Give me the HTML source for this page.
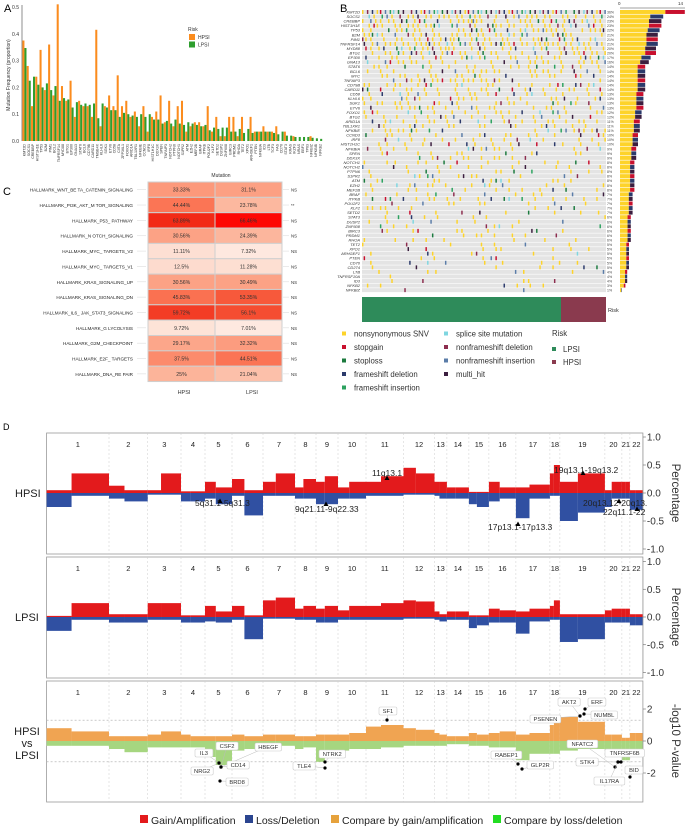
<!DOCTYPE html>
<html><head><meta charset="utf-8"><style>
html,body{margin:0;padding:0;background:#fff;}
svg{display:block;font-family:"Liberation Sans",Arial,sans-serif;}
</style></head><body>
<svg id="fig" width="685" height="830" viewBox="0 0 685 830" xmlns="http://www.w3.org/2000/svg">
<g id="pA"></g>
<g id="pB"></g>
<g id="pC"></g>
<g id="pD"></g>
</svg>
<script>
// ---------- Panel A data ----------
const genesA = ["KMT2D","SOCS1","CREBBP","HIST1H1E","TP53","B2M","PIM1","BCL2","TNFRSF14","MYD88","BTG1","EP300","GNA13","STAT6","BCL6","CD79B","CARD11","TMSB4X","KLHL6","SGK1","ETV6","CD58","CIITA","ZFP36L1","FOXO1","ARID1A","TBL1XR1","NFKBIE","CCND3","IRF8","HIST1H1C","DDX3X","SPEN","TNFAIP3","NOTCH2","PTPN6","NOTCH1","S1PR2","ATM","EZH2","MEF2B","BRAF","ITPKB","POU2F2","KLF2","SETD2","DUSP2","ZNF608","BIRC3","PRDM1","RHOA","TET2","XPO1","ARHGEF1","PTEN","NFKBIA","ID3","LTB","TCF3","FAS","CD70","STAT3","KRAS","IKZF3","NRAS","EBF1","TP63","NFKBIZ","NFKBIB","NFKB2"];
const hpsiFreq = [0.375,0.28,0.13,0.24,0.34,0.19,0.36,0.17,0.51,0.205,0.15,0.225,0.09,0.15,0.13,0.13,0.09,0.415,0.055,0.13,0.17,0.13,0.245,0.13,0.15,0.09,0.11,0.055,0.13,0.035,0.09,0.11,0.17,0.07,0.15,0.055,0.13,0.15,0.035,0.055,0.07,0.07,0.055,0.13,0.035,0.09,0.018,0.018,0.09,0.09,0.018,0.09,0.0,0.09,0.035,0.035,0.055,0.035,0.035,0.055,0.0,0.035,0.0,0.018,0.0,0.0,0.0,0.018,0.0,0.0];
const lpsiFreq = [0.347,0.225,0.24,0.21,0.2,0.215,0.19,0.205,0.15,0.16,0.155,0.125,0.145,0.135,0.14,0.135,0.14,0.085,0.14,0.125,0.115,0.115,0.09,0.105,0.1,0.095,0.09,0.1,0.09,0.1,0.08,0.08,0.065,0.075,0.065,0.08,0.065,0.06,0.07,0.065,0.06,0.055,0.06,0.04,0.05,0.045,0.05,0.05,0.035,0.035,0.045,0.03,0.045,0.03,0.035,0.035,0.035,0.035,0.03,0.025,0.035,0.02,0.02,0.015,0.015,0.015,0.015,0.012,0.01,0.008];
const ticksA = [0,0.1,0.2,0.3,0.4,0.5];

// ---------- Panel B data ----------
const genesB = ["KMT2D","SOCS1","CREBBP","HIST1H1E","TP53","B2M","PIM1","TNFRSF14","MYD88","BTG1","EP300","GNA13","STAT6","BCL6","MYC","TNFAIP3","CD79B","CARD11","CD58","KLHL6","SGK1","ETV6","FOXO1","BTG2","ARID1A","TBL1XR1","NFKBIE","CCND3","IRF8","HIST1H1C","NFKBIA","SPEN","DDX3X","NOTCH1","NOTCH2","PTPN6","S1PR2","ATM","EZH2","MEF2B","BRAF","ITPKB","POU2F2","KLF2","SETD2","STAT3","DUSP2","ZNF608","BIRC3","PRDM1","RHOA","TET2","XPO1","ARHGEF1","PTEN","CD70","CD274","LTB","TNFRSF10A","ID3","NFKB2","NFKBIZ"];
const pctB = [36,24,23,23,22,21,21,21,20,20,17,16,14,14,14,14,14,14,13,13,13,13,12,12,11,11,11,10,10,10,9,9,9,8,8,8,8,8,8,8,7,7,7,7,7,6,6,6,6,6,6,5,5,5,5,5,5,4,4,4,3,1];
const mutTypes = ["nonsynonymous SNV","stopgain","stoploss","frameshift deletion","frameshift insertion","splice site mutation","nonframeshift deletion","nonframeshift insertion","multi_hit"];
const mutColors = ["#fdd32a","#c8102e","#1b7a3e","#2b3a6b","#2ca25f","#7fd6e0","#8c2d4e","#5a7ca8","#3b1e3f"];

// ---------- Panel C data ----------
const pathways = ["HALLMARK_WNT_BE TA_CATENIN_SIGNALING","HALLMARK_PI3K_AKT_M TOR_SIGNALING","HALLMARK_P53_ PATHWAY","HALLMARK_N OTCH_SIGNALING","HALLMARK_MYC_ TARGETS_V2","HALLMARK_MYC_ TARGETS_V1","HALLMARK_KRAS_SIGNALING_UP","HALLMARK_KRAS_SIGNALING_DN","HALLMARK_IL6_ JAK_STAT3_SIGNALING","HALLMARK_G LYCOLYSIS","HALLMARK_G2M_CHECKPOINT","HALLMARK_E2F_ TARGETS","HALLMARK_DNA_RE PAIR"];
const hpsiPct = [33.33,44.44,63.89,30.56,11.11,12.5,30.56,45.83,59.72,9.72,29.17,37.5,25];
const lpsiPct = [31.1,23.78,66.46,24.39,7.32,11.28,30.49,53.35,56.1,7.01,32.32,44.51,21.04];
const sigC = ["NS","**","NS","NS","NS","NS","NS","NS","NS","NS","NS","NS","NS"];

// ---------- Panel D data ----------
const chrNames = ["1","2","3","4","5","6","7","8","9","10","11","12","13","14","15","16","17","18","19","20","21","22"];
const chrSpan = [62.4,38.7,33.3,24,27,31,32,21,22,28,37.5,31,12.4,22,20,27,34,10,45,17,8,13];
const hpsiGain = [[0.05,0.35],[0.13,0.05],[0.05,0.35],[0.03,0.03],[0.2,0.1],[0.25,0.05],[0.2,0.35],[0.1,0.25],[0.2,0.3],[0.1,0.2],[0.2,0.3],[0.45,0.35],[0.2,0.2],[0.1,0.1],[0.02,0.02],[0.2,0.1],[0.1,0.15],[0.35,0.5],[0.2,0.35],[0.05,0.2],[0.2,0.2],[0.05,0.05]];
const hpsiLoss = [[-0.25,-0.05],[-0.1,-0.15],[-0.03,-0.03],[-0.15,-0.15],[-0.1,-0.2],[-0.05,-0.4],[-0.05,-0.05],[-0.1,-0.1],[-0.2,-0.2],[-0.1,-0.1],[-0.05,-0.05],[-0.03,-0.03],[-0.05,-0.1],[-0.1,-0.1],[-0.2,-0.25],[-0.15,-0.1],[-0.45,-0.1],[-0.05,-0.05],[-0.5,-0.35],[-0.25,-0.1],[-0.1,-0.1],[-0.3,-0.3]];
const lpsiGain = [[0.02,0.25],[0.05,0.05],[0.25,0.25],[0.03,0.03],[0.2,0.1],[0.2,0.03],[0.3,0.35],[0.15,0.2],[0.15,0.2],[0.12,0.2],[0.2,0.25],[0.3,0.28],[0.1,0.05],[0.1,0.1],[0.03,0.03],[0.15,0.12],[0.1,0.15],[0.2,0.3],[0.05,0.05],[0.12,0.15],[0.15,0.15],[0.05,0.05]];
const lpsiLoss = [[-0.25,-0.05],[-0.1,-0.1],[-0.05,-0.05],[-0.1,-0.1],[-0.08,-0.1],[-0.05,-0.4],[-0.03,-0.03],[-0.05,-0.05],[-0.1,-0.1],[-0.05,-0.05],[-0.05,-0.05],[-0.03,-0.03],[-0.05,-0.08],[-0.05,-0.05],[-0.2,-0.15],[-0.1,-0.1],[-0.3,-0.08],[-0.05,-0.05],[-0.45,-0.4],[-0.1,-0.1],[-0.1,-0.1],[-0.15,-0.15]];
const cmpGain = [[0.8,0.6],[0.3,0.3],[0.4,0.6],[0.4,0.3],[0.3,0.3],[0.4,0.3],[0.4,0.4],[0.3,0.3],[0.4,0.4],[0.4,0.5],[0.9,1.0],[0.8,0.7],[0.5,0.4],[0.3,0.3],[0.5,0.4],[0.5,0.6],[0.4,0.5],[1.0,1.2],[1.5,1.2],[0.4,0.4],[0.2,0.2],[0.5,0.5]];
const cmpLoss = [[0.3,0.3],[0.5,0.7],[0.4,0.4],[0.4,0.4],[1.0,1.5],[0.6,0.5],[0.3,0.3],[0.5,0.4],[1.3,0.8],[0.6,0.5],[0.5,0.4],[0.3,0.3],[0.3,0.3],[0.2,0.2],[0.3,0.3],[0.4,0.4],[1.2,0.8],[0.8,0.8],[0.6,0.5],[0.6,0.6],[1.2,1.2],[0.5,0.5]];
const cnvLabels = [["11q13.1",372,476],["19q13.1-19q13.2",554,473],["5q31.1-5q31.3",195,506],["9q21.11-9q22.33",295,512],["17p13.1-17p13.3",488,530],["20q13.12-20q13.",583,506],["22q11.1-22",603,515]];
const cnvMarks = [[387,478],[583,473],[220,501],[326,504],[518,524],[619,501],[637,509]];
const geneTags = [["SF1",379,707,387,720],["AKT2",558,698,580,716],["ERF",588,698,585,709],["NUMBL",591,711,584,714],["PSENEN",530,715,580,716],["NFATC2",567,740,615,767],["TNFRSF6B",605,749,621,762],["STK4",576,758,618,762],["IL17RA",594,777,618,762],["BID",625,766,630,777],["RABEP1",491,751,518,764],["GLP2R",527,761,522,769],["NTRK2",319,750,325,762],["TLE4",293,762,325,768],["IL3",195,749,219,763],["CSF2",216,742,221,767],["HBEGF",255,743,221,767],["NRG2",191,767,219,763],["CD14",227,761,221,767],["BRD8",226,778,220,781]];

const NS="http://www.w3.org/2000/svg";
function mk(parent,tag,attrs,text){const e=document.createElementNS(NS,tag);for(const k in attrs)e.setAttribute(k,attrs[k]);if(text!==undefined)e.textContent=text;parent.appendChild(e);return e;}

// ===== Panel A =====
(function(){
const g=document.getElementById('pA');
let t=mk(g,'text',{x:4,y:12,'font-size':11},'A');


const x0=22,x1=322,yA=v=>141-v*268;
const step=(x1-x0)/genesA.length;
let ax=mk(g,'line',{x1:x0,y1:5,x2:x0,y2:141,stroke:'#444','stroke-width':0.6});


ticksA.forEach(v=>{
 let tl=mk(g,'text',{x:x0-3,y:yA(v)+2,'font-size':5,'text-anchor':'end',fill:'#333'},v.toFixed(1));
 
 
});
let yt=mk(g,'text',{x:10,y:75,'font-size':5,'text-anchor':'middle',fill:'#333',transform:'rotate(-90 10 75)'},'Mutation Frequency (proportion)');


genesA.forEach((gn,i)=>{
 const bx=x0+i*step+0.4;
 let b1=mk(g,'rect',{x:bx,y:yA(hpsiFreq[i]),width:step/2-0.1,height:141-yA(hpsiFreq[i]),fill:'#fb8c1e'});
 
 
 let b2=mk(g,'rect',{x:bx+step/2-0.1,y:yA(lpsiFreq[i]),width:step/2-0.1,height:141-yA(lpsiFreq[i]),fill:'#2e9e2e'});
 
 
 const lx=bx+step/2+1;
 let gl=mk(g,'text',{x:lx,y:144,'font-size':3.6,'text-anchor':'end',fill:'#333',transform:`rotate(-90 ${lx} 144)`},gn);
 
 
});
let lg=mk(g,'g',{});


mk(lg,'text',{x:188,y:31,'font-size':5,fill:'#333'},'Risk');
mk(lg,'rect',{x:189,y:34,width:6,height:6,fill:'#fb8c1e'});
mk(lg,'text',{x:198,y:39,'font-size':5,fill:'#333'},'HPSI');
mk(lg,'rect',{x:189,y:41.5,width:6,height:6,fill:'#2e9e2e'});
mk(lg,'text',{x:198,y:46.5,'font-size':5,fill:'#333'},'LPSI');
})();

// ===== Panel B =====
(function(){
const g=document.getElementById('pB');
let t=mk(g,'text',{x:340,y:12,'font-size':11},'B');


const ox=362,ow=244,oy=10,rh=4.56,N=150,cw=ow/N;
genesB.forEach((gn,i)=>{
 const y=oy+i*rh;
 let r=mk(g,'rect',{x:ox,y:y,width:ow,height:rh-0.6,fill:'#e4e4e4'});
 
 
 const p=pctB[i];
 for(let j=0;j<N;j++){
  const h=(j*37+i*53+(j*i)%17)%100;
  if(h<p){
   const cidx=(i===0)?((j*5)%9):(((j*3+i*7)%11)<7?0:((j+i)%9));
   let c=mk(g,'rect',{x:ox+j*cw,y:y,width:cw*0.9,height:rh-0.6,fill:mutColors[cidx]});
   
   
  }
 }
 let gl=mk(g,'text',{x:360,y:y+3.5,'font-size':4,'text-anchor':'end','font-style':'italic',fill:'#333'},gn);
 
 
 let pl=mk(g,'text',{x:607,y:y+3.5,'font-size':3.5,fill:'#444'},p+'%');
 
 
 const L=p*1.8;
 let b=mk(g,'rect',{x:620,y:y,width:L*0.7,height:rh-0.6,fill:'#fdd32a'});
 
 
 let b2=mk(g,'rect',{x:620+L*0.7,y:y,width:L*0.3,height:rh-0.6,fill:mutColors[(i%3===0)?1:(i%3===1?3:8)]});
 
 
});
let ax=mk(g,'line',{x1:620,y1:8,x2:685,y2:8,stroke:'#444','stroke-width':0.5});


mk(g,'text',{x:618,y:5,'font-size':4.5,fill:'#333'},'0');
mk(g,'text',{x:678,y:5,'font-size':4.5,fill:'#333'},'14');
const ry=297;
let rk1=mk(g,'rect',{x:ox,y:ry,width:199,height:25,fill:'#2e8b5a'});


let rk2=mk(g,'rect',{x:ox+199,y:ry,width:ow-199,height:25,fill:'#8a3a4e'});


mk(g,'text',{x:608,y:312,'font-size':5.5,fill:'#333'},'Risk');
const cols=[[0,1,2,3,4],[5,6,7,8]];
cols.forEach((col,ci)=>{
 col.forEach((m,ri)=>{
  const lx=ci?446:344, ly=333.5+ri*13.5;
  let d=mk(g,'rect',{x:lx-2,y:ly-2,width:4,height:4,fill:mutColors[m]});
  
  
  let tx=mk(g,'text',{x:lx+10,y:ly+3,'font-size':7.8,fill:'#333'},mutTypes[m]);
  
  
 });
});
mk(g,'text',{x:552,y:336,'font-size':7.8,fill:'#333'},'Risk');
mk(g,'rect',{x:552,y:347,width:4,height:4,fill:'#2e8b5a'});
mk(g,'text',{x:563,y:352,'font-size':7.8,fill:'#333'},'LPSI');
mk(g,'rect',{x:552,y:360,width:4,height:4,fill:'#8a3a4e'});
mk(g,'text',{x:563,y:365,'font-size':7.8,fill:'#333'},'HPSI');
})();

// ===== Panel C =====
(function(){
const g=document.getElementById('pC');
let t=mk(g,'text',{x:3,y:195,'font-size':11},'C');


const top=182,rh=15.35,c0=148,cw=67;
const stops=[[5,[254,238,230]],[12,[253,221,208]],[25,[252,180,154]],[33,[252,154,124]],[44,[251,118,86]],[53,[247,91,60]],[60,[243,59,36]],[64,[242,42,22]],[67,[255,0,0]]];
function col(v){
 for(let k=1;k<stops.length;k++){
  if(v<=stops[k][0]||k===stops.length-1){
   const a=stops[k-1],b=stops[k];const tt=Math.max(0,Math.min(1,(v-a[0])/(b[0]-a[0])));
   return `rgb(${Math.round(a[1][0]+(b[1][0]-a[1][0])*tt)},${Math.round(a[1][1]+(b[1][1]-a[1][1])*tt)},${Math.round(a[1][2]+(b[1][2]-a[1][2])*tt)})`;
  }
 }
}
mk(g,'text',{x:221,y:177,'font-size':5,'text-anchor':'middle',fill:'#333'},'Mutation');
pathways.forEach((pw,i)=>{
 const y=top+i*rh;
 let l=mk(g,'text',{x:133,y:y+rh/2+2,'font-size':4.6,'text-anchor':'end',fill:'#222'},pw);
 
 
 mk(g,'line',{x1:137,y1:y+rh/2,x2:146,y2:y+rh/2,stroke:'#ddd','stroke-width':0.6});
 [[hpsiPct[i],0],[lpsiPct[i],1]].forEach(([v,k])=>{
  let c=mk(g,'rect',{x:c0+k*cw,y:y,width:cw,height:rh,fill:col(v),stroke:'#cfcfcf','stroke-width':1});
  
  
  let tx=mk(g,'text',{x:c0+k*cw+cw/2,y:y+rh/2+2,'font-size':5.2,'text-anchor':'middle',fill:'#333'},v+'%');
  
  
 });
 mk(g,'line',{x1:283,y1:y+rh/2,x2:289,y2:y+rh/2,stroke:'#ddd','stroke-width':0.6});
 let s=mk(g,'text',{x:291,y:y+rh/2+2,'font-size':4.4,fill:'#333'},sigC[i]);
 
 
});
mk(g,'text',{x:184,y:394,'font-size':5.5,'text-anchor':'middle',fill:'#333'},'HPSI');
mk(g,'text',{x:252,y:394,'font-size':5.5,'text-anchor':'middle',fill:'#333'},'LPSI');
})();

// ===== Panel D =====
(function(){
const g=document.getElementById('pD');
let t=mk(g,'text',{x:3,y:430,'font-size':9},'D');


const X0=46.6;
const bounds=[X0];chrSpan.forEach(w=>bounds.push(bounds[bounds.length-1]+w));
const XE=bounds[bounds.length-1];
function panel(top,bot,numY,name){
 let b=mk(g,'rect',{x:X0,y:top,width:XE-X0,height:bot-top,fill:'#fff',stroke:'#9a9a9a','stroke-width':0.8});
 
 
 for(let i=1;i<chrNames.length;i++) mk(g,'line',{x1:bounds[i],y1:top,x2:bounds[i],y2:bot,stroke:'#ccc','stroke-width':0.5,'stroke-dasharray':'2,2'});
 chrNames.forEach((c,i)=>{
  let l=mk(g,'text',{x:(bounds[i]+bounds[i+1])/2,y:numY,'font-size':7.5,'text-anchor':'middle',fill:'#222'},c);
  
  
 });
}
function cnv(zero,unit,gain,loss,gc,lc,nm){
 chrSpan.forEach((w,i)=>{
  const xs=bounds[i],xm=xs+w*0.4,xe=bounds[i+1];
  [[xs,xm,0],[xm,xe,1]].forEach(([a,b,k])=>{
   let r=mk(g,'rect',{x:a,y:zero-gain[i][k]*unit,width:b-a,height:gain[i][k]*unit,fill:gc});
   
   
   let r2=mk(g,'rect',{x:a,y:zero,width:b-a,height:-loss[i][k]*unit,fill:lc});
   
   
  });
 });
}
function rightAxis(vals,zero,unit,title,fmt){
 mk(g,'line',{x1:XE,y1:zero-vals[0]*unit,x2:XE,y2:zero-vals[vals.length-1]*unit,stroke:'#999','stroke-width':0.6});
 vals.forEach(v=>{
  mk(g,'line',{x1:XE,y1:zero-v*unit,x2:XE+3,y2:zero-v*unit,stroke:'#666','stroke-width':0.6});
  let l=mk(g,'text',{x:XE+4,y:zero-v*unit+3.5,'font-size':10,fill:'#333'},fmt(v));
  
  
 });
 let tt=mk(g,'text',{x:672,y:zero,'font-size':11.5,'text-anchor':'middle',fill:'#333',transform:`rotate(90 672 ${zero})`},title);
 
 
}
panel(433,554,447,'hpsi-cnv-panel');
cnv(493,56,hpsiGain,hpsiLoss,'#e31a1c','#3050a2','hpsi');
rightAxis([1,0.5,0,-0.5,-1],493,56,'Percentage',v=>v.toFixed(1));
let h1=mk(g,'text',{x:15,y:497,'font-size':11,fill:'#222'},'HPSI');


cnvLabels.forEach(l=>{let e=mk(g,'text',{x:l[1],y:l[2],'font-size':8.5,fill:'#222'},l[0]);
 
 });
cnvMarks.forEach(m=>{let e=mk(g,'path',{d:`M${m[0]-2.5},${m[1]+2} L${m[0]+2.5},${m[1]+2} L${m[0]},${m[1]-2.5} Z`,fill:'#000'});
 
 });
panel(557,678,571,'lpsi-cnv-panel');
cnv(617,55.5,lpsiGain,lpsiLoss,'#e31a1c','#3050a2','lpsi');
rightAxis([1,0.5,0,-0.5,-1],617,55.5,'Percentage',v=>v.toFixed(1));
let h2=mk(g,'text',{x:15,y:621,'font-size':11,fill:'#222'},'LPSI');


panel(681,802,695,'compare-panel');
mk(g,'line',{x1:X0,y1:741-1.3*16,x2:XE,y2:741-1.3*16,stroke:'#aaa','stroke-width':0.6,'stroke-dasharray':'2,2'});
mk(g,'line',{x1:X0,y1:741+1.3*16,x2:XE,y2:741+1.3*16,stroke:'#aaa','stroke-width':0.6,'stroke-dasharray':'2,2'});
cnv(741,16,cmpGain,cmpLoss.map(a=>[-a[0],-a[1]]),'#f0a452','#a6d680','cmp');
rightAxis([2,0,-2],741,16,'-log10 P-value',v=>String(v));
['HPSI','vs','LPSI'].forEach((s,i)=>{let e=mk(g,'text',{x:27,y:735+i*12,'font-size':11,'text-anchor':'middle',fill:'#222'},s);
 
 });
geneTags.forEach(tg=>{
 const w=tg[0].length*4.3+5;
 mk(g,'line',{x1:tg[1]+w/2,y1:tg[2]+3.5,x2:tg[3],y2:tg[4],stroke:'#bbb','stroke-width':0.5});
 let bx=mk(g,'rect',{x:tg[1],y:tg[2],width:w,height:8,rx:1.5,fill:'#fff',stroke:'#ccc','stroke-width':0.6});
 
 
 let tx=mk(g,'text',{x:tg[1]+w/2,y:tg[2]+6,'font-size':5.8,'text-anchor':'middle',fill:'#333'},tg[0]);
 
 
 let d=mk(g,'circle',{cx:tg[3],cy:tg[4],r:1.6,fill:'#000'});
 
 
});
const lg=[['#e31a1c','Gain/Amplification',140],['#2b4590','Loss/Deletion',245],['#e6a23c','Compare by gain/amplification',331],['#22dd22','Compare by loss/deletion',493]];
lg.forEach(l=>{
 let r=mk(g,'rect',{x:l[2],y:815,width:8,height:8,fill:l[0]});
 
 
 let tx=mk(g,'text',{x:l[2]+11,y:824,'font-size':10.5,fill:'#222'},l[1]);
 
 
});
})();
</script>
</body></html>
